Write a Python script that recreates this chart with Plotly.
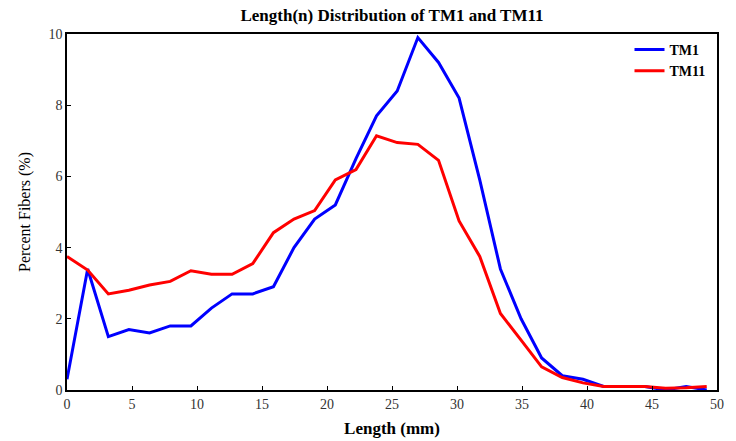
import plotly.graph_objects as go

length_mm = [0.00, 1.59, 3.18, 4.76, 6.35, 7.94, 9.53, 11.11, 12.70, 14.29,
             15.88, 17.46, 19.05, 20.64, 22.23, 23.81, 25.40, 26.99, 28.58, 30.16,
             31.75, 33.34, 34.93, 36.51, 38.10, 39.69, 41.28, 42.86, 44.45, 46.04,
             47.63, 49.21]

tm1 = [0.30, 3.40, 1.50, 1.70, 1.60, 1.80, 1.80, 2.30, 2.70, 2.70,
       2.90, 4.00, 4.80, 5.20, 6.50, 7.70, 8.40, 9.90, 9.20, 8.20,
       5.90, 3.40, 2.00, 0.90, 0.40, 0.30, 0.10, 0.10, 0.10, 0.00,
       0.10, 0.00]

tm11 = [3.75, 3.37, 2.70, 2.80, 2.95, 3.05, 3.35, 3.25, 3.25, 3.55,
        4.42, 4.80, 5.04, 5.90, 6.19, 7.14, 6.95, 6.90, 6.45, 4.75,
        3.75, 2.15, 1.40, 0.65, 0.35, 0.20, 0.10, 0.10, 0.10, 0.05,
        0.06, 0.10]

x_ticks = [0, 5, 10, 15, 20, 25, 30, 35, 40, 45, 50]
y_ticks = [0, 2, 4, 6, 8, 10]

serif = "Liberation Serif"

fig = go.Figure()
fig.add_trace(go.Scatter(x=length_mm, y=tm1, mode="lines", name="<b>TM1</b>",
                         line=dict(color="#0000FF", width=3)))
fig.add_trace(go.Scatter(x=length_mm, y=tm11, mode="lines", name="<b>TM11</b>",
                         line=dict(color="#FF0000", width=3)))

axis_common = dict(showline=True, linecolor="black", linewidth=1.5, mirror=True,
                   ticks="inside", ticklen=4, tickcolor="black", showgrid=False,
                   zeroline=False, automargin=False,
                   tickfont=dict(family=serif, size=14, color="#333"))

fig.update_layout(
    width=736, height=441,
    margin=dict(l=67, r=19, t=34, b=51),
    paper_bgcolor="white", plot_bgcolor="white",
    title=dict(text="<b>Length(n) Distribution of TM1 and TM11</b>",
               x=0.5, xanchor="center", xref="paper", y=0.965, yanchor="middle",
               font=dict(family=serif, size=17, color="black")),
    xaxis=dict(range=[0, 50], tickvals=x_ticks, **axis_common,
               title=dict(text="<b>Length (mm)</b>", standoff=12,
                          font=dict(family=serif, size=17, color="black"))),
    yaxis=dict(range=[0, 10], tickvals=y_ticks, **axis_common,
               title=dict(text="Percent Fibers (%)", standoff=14,
                          font=dict(family=serif, size=16, color="black"))),
    legend=dict(x=0.99, y=1.0, xanchor="right", yanchor="top",
                bgcolor="rgba(0,0,0,0)", font=dict(family=serif, size=14, color="black"),
                tracegroupgap=0, itemwidth=30),
    showlegend=True,
)

fig.write_html("out.html")
